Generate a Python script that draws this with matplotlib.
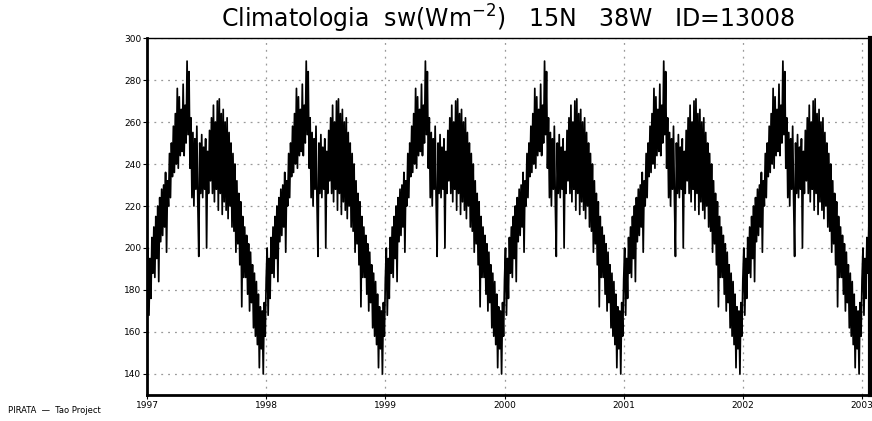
import numpy as np
import matplotlib.pyplot as plt

############# Data ###########################################

# one year of the climatology, ~3 day steps (122 values), W/m2
clim = [185, 200, 168, 195, 176, 205,
        188, 210, 186, 215, 195, 220, 184, 224, 203, 228,
        206, 230, 210, 236, 198, 232, 220, 245, 224, 250,
        234, 258, 236, 264, 240, 276, 238, 272, 244, 266,
        246, 278, 244, 268, 250, 289, 254, 284, 238,
        262, 224, 255, 220, 252, 228, 258, 222,
        196, 250,
        226, 254, 224, 248, 228, 252, 200, 246, 226, 256,
        232, 262, 226, 268, 222, 260, 228, 270, 218, 271, 226, 264, 216, 266, 222, 260,
        218, 262, 214, 255, 220, 250, 210, 245, 208, 240,
        198, 232, 202, 226, 192, 222, 172, 215, 186, 210,
        186, 206, 178, 202, 170, 198, 174, 192, 162, 188,
        158, 184, 154, 178, 143, 172, 152, 170, 140, 174, 158]

years = [1997, 1998, 1999, 2000, 2001, 2002, 2003]
yticks = [140, 160, 180, 200, 220, 240, 260, 280, 300]

title = 'Climatologia  sw(Wm$^{-2}$)   15N   38W   ID=13008'
footer = 'PIRATA  \u2014  Tao Project'

###############################################################

# the climatology repeats every year
t = np.concatenate([y + np.arange(len(clim)) / len(clim) for y in years])
sw = np.tile(clim, len(years))

fig = plt.figure(figsize=(8.72, 4.21), dpi=100)
ax = fig.add_axes([0.1686, 0.0618, 0.8291, 0.8479])

ax.plot(t, sw, color='black', lw=1.25)

ax.set_xlim(1997, 2003.067)
ax.set_ylim(130, 300)
ax.set_xticks(years)
ax.set_xticklabels([str(y) for y in years])
ax.set_yticks(yticks)

ax.grid(True, color='#999999', linestyle=(0, (1.5, 4)), lw=0.9)
ax.tick_params(labelsize=6.5, length=3, width=0.8, pad=1)

for s in ['left', 'bottom']:
    ax.spines[s].set_linewidth(2)
ax.spines['right'].set_linewidth(3)
ax.spines['top'].set_linewidth(1)

fig.text(0.583, 0.955, title, ha='center', va='center', fontsize=17)
fig.text(0.009, 0.026, footer, ha='left', va='center', fontsize=6)

plt.savefig('out.png', dpi=100)
plt.close()
